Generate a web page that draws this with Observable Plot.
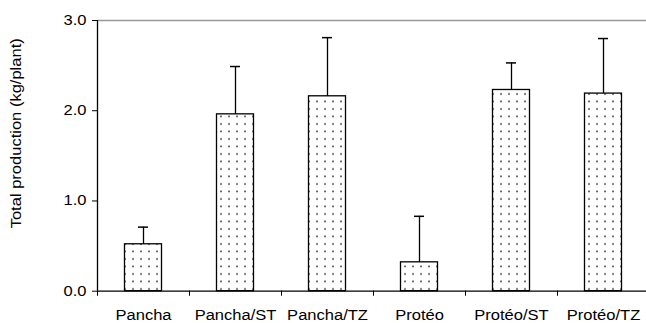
<!DOCTYPE html>
<html><head><meta charset="utf-8">
<script src="https://cdn.jsdelivr.net/npm/d3@7"></script>
<script src="https://cdn.jsdelivr.net/npm/@observablehq/plot@0.6"></script>
<style>body{margin:0;background:#fff;} svg{display:block;}</style>
</head><body><div id="chart"></div>
<script>
const categories = ["Pancha", "Pancha/ST", "Pancha/TZ", "Protéo", "Protéo/ST", "Protéo/TZ"];
const means = [0.52, 1.96, 2.16, 0.32, 2.23, 2.19];
const upper = [0.71, 2.49, 2.81, 0.83, 2.53, 2.80];
const yTicks = [0, 1, 2, 3];
const yLabel = "Total production (kg/plant)";

const data = categories.map((c, i) => ({cat: c, mean: means[i], up: upper[i]}));
const font = "Liberation Sans, Arial, sans-serif";

const chart = Plot.plot({
  width: 646, height: 323,
  marginLeft: 97, marginRight: 0, marginTop: 20, marginBottom: 32,
  style: {fontFamily: font, fontSize: "14px", color: "#000", background: "#fff"},
  x: {domain: categories, range: [97, 649], paddingInner: 0, paddingOuter: 0, axis: null},
  y: {domain: [0, 3], range: [290.7, 20], axis: null},
  marks: [
    Plot.ruleY([3], {stroke: "#999", strokeWidth: 1.5}),
    Plot.barY(data, {x: "cat", y: "mean", fill: "url(#dots)", stroke: "#000", strokeWidth: 1.3, insetLeft: 27.5, insetRight: 27.5}),
    Plot.ruleX(data, {x: "cat", y1: "mean", y2: "up", stroke: "#000", strokeWidth: 1.3}),
    Plot.tickY(data, {x: "cat", y: "up", stroke: "#000", strokeWidth: 1.5, insetLeft: 41, insetRight: 41}),
    Plot.axisY({ticks: yTicks, tickFormat: d3.format(".1f"), tickSize: 5, tickPadding: 6, fontSize: 14, label: null, stroke: "#000"}),
    Plot.ruleX([0], {x: () => categories[0], y1: 0, y2: 3, dx: -46, stroke: "#000", strokeWidth: 1.3}),
    Plot.ruleY([0], {stroke: "#000", strokeWidth: 1.3}),
    Plot.ruleX(categories, {x: d => d, y1: 0, y2: -0.056, dx: -46, stroke: "#000", strokeWidth: 1}),
    Plot.text(categories, {x: d => d, y: 0, dy: 24, text: d => d, fontSize: 14, fill: "#000"}),
    Plot.text([yLabel], {x: () => categories[0], y: 1.75, dx: -127, rotate: -90, text: d => d, fontSize: 14, fill: "#000"})
  ]
});

const svg = d3.select(chart);
const defs = svg.insert("defs", ":first-child");
const pat = defs.append("pattern").attr("id", "dots").attr("patternUnits", "userSpaceOnUse")
  .attr("width", 8).attr("height", 7.5).attr("x", 1).attr("y", 0);
pat.append("rect").attr("width", 8).attr("height", 7.5).attr("fill", "#fff");
pat.append("circle").attr("cx", 4).attr("cy", 4).attr("r", 0.9).attr("fill", "#333");

document.getElementById("chart").appendChild(chart);

// widen glyphs to match the reference's wider type
svg.selectAll("text").each(function() {
  const w = this.getComputedTextLength();
  if (w > 0) {
    this.setAttribute("textLength", (w * 1.18).toFixed(1));
    this.setAttribute("lengthAdjust", "spacingAndGlyphs");
  }
});
</script>
</body></html>
